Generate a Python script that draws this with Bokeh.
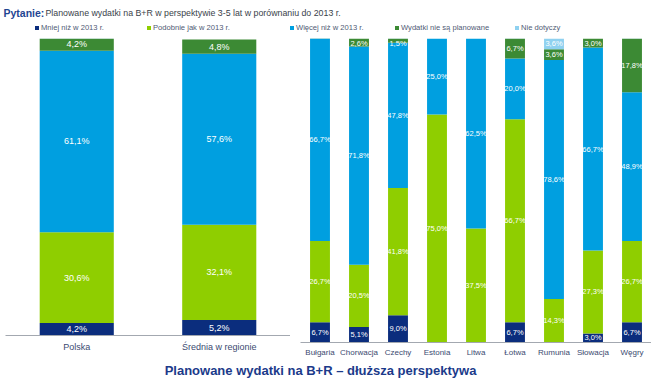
from bokeh.plotting import figure
from bokeh.models import Range1d, FactorRange, Legend, LegendItem, ColumnDataSource
from bokeh.layouts import column, row
from bokeh.embed import file_html
from bokeh.resources import INLINE
from bokeh.core.properties import value

FONT = "Liberation Sans"

series = ["Mniej niż w 2013 r.", "Podobnie jak w 2013 r.", "Więcej niż w 2013 r.",
          "Wydatki nie są planowane", "Nie dotyczy"]
colors = ["#0b2d7d", "#8fce00", "#009fe0", "#3c8a34", "#8fd1f0"]

left_cats = ["Polska", "Średnia w regionie"]
left_mniej = [4.2, 5.2]
left_podobnie = [30.6, 32.1]
left_wiecej = [61.1, 57.6]
left_brak = [4.2, 4.8]
left_nd = [0.0, 0.0]

right_cats = ["Bułgaria", "Chorwacja", "Czechy", "Estonia", "Litwa", "Łotwa",
              "Rumunia", "Słowacja", "Węgry"]
right_mniej = [6.7, 5.1, 9.0, 0.0, 0.0, 6.7, 0.0, 3.0, 6.7]
right_podobnie = [26.7, 20.5, 41.8, 75.0, 37.5, 66.7, 14.3, 27.3, 26.7]
right_wiecej = [66.7, 71.8, 47.8, 25.0, 62.5, 20.0, 78.6, 66.7, 48.9]
right_brak = [0.0, 2.6, 1.5, 0.0, 0.0, 6.7, 3.6, 3.0, 17.8]
right_nd = [0.0, 0.0, 0.0, 0.0, 0.0, 0.0, 3.6, 0.0, 0.0]

title_bold = "Pytanie:"
title_rest = "Planowane wydatki na B+R w perspektywie 3-5 lat w porównaniu do 2013 r."
footer_text = "Planowane wydatki na B+R – dłuższa perspektywa"

keys = ["s0", "s1", "s2", "s3", "s4"]


def panel(cats, cols, fw, fh, bw, mb_left, mb_bottom, lab_size, axis_size, standoff, ymax_lab):
    data = {"cat": cats}
    for k, c in zip(keys, cols):
        data[k] = c
    src = ColumnDataSource(data)
    p = figure(x_range=FactorRange(*cats, range_padding=0), y_range=Range1d(0, 100),
               frame_width=fw, frame_height=fh, output_backend="svg", toolbar_location=None,
               y_axis_location=None, min_border_left=mb_left, min_border_right=0,
               min_border_top=0, min_border_bottom=mb_bottom)
    p.vbar_stack(keys, x="cat", width=bw, color=colors, source=src, line_color=None)
    lx, ly, lt = [], [], []
    for i, cat in enumerate(cats):
        base = 0.0
        for c in cols:
            v = c[i]
            if v > 0:
                lx.append(cat)
                ly.append(min(base + v / 2, ymax_lab))
                lt.append(("%.1f%%" % v).replace(".", ","))
            base += v
    p.text(x=lx, y=ly, text=lt, text_color="white", text_align="center",
           text_baseline="middle", text_font=value(FONT), text_font_size=lab_size)
    p.xgrid.visible = False
    p.ygrid.visible = False
    p.outline_line_color = None
    p.background_fill_color = None
    p.border_fill_color = None
    ax = p.xaxis[0]
    ax.axis_line_color = "#a3a8b0"
    ax.axis_line_width = 1
    ax.major_tick_line_color = None
    ax.minor_tick_line_color = None
    ax.major_tick_out = 0
    ax.major_tick_in = 0
    ax.minor_tick_out = 0
    ax.major_label_text_font = FONT
    ax.major_label_text_font_size = axis_size
    ax.major_label_text_color = "#3b4a70"
    ax.major_label_standoff = standoff
    return p


p1 = panel(left_cats, [left_mniej, left_podobnie, left_wiecej, left_brak, left_nd],
           285, 297, 0.52, 5, 23, "9px", "9px", 6, 98.0)
p2 = panel(right_cats, [right_mniej, right_podobnie, right_wiecej, right_brak, right_nd],
           351, 304, 0.51, 10, 16, "7.5px", "8px", 5, 98.4)

# header with title and legend
W = 651
header = figure(width=W, height=38, x_range=Range1d(0, W), y_range=Range1d(0, 38),
                output_backend="svg", toolbar_location=None, x_axis_location=None,
                y_axis_location=None, min_border=0)
header.xgrid.visible = False
header.ygrid.visible = False
header.outline_line_color = None
header.text(x=[3], y=[26], text=[title_bold], text_font=value(FONT), text_font_size="10.5px",
            text_font_style="bold", text_color="#1f4592", text_baseline="middle")
header.text(x=[45], y=[26], text=[title_rest], text_font=value(FONT), text_font_size="8.8px",
            text_color="#3a3f4a", text_baseline="middle")

legend_x = [34, 146, 289, 394, 514]
for name, col, lx in zip(series, colors, legend_x):
    r = header.vbar(x=[-100], top=[0], width=1, color=col, line_color=None)
    leg = Legend(items=[LegendItem(label=name, renderers=[r])], location=(lx, 6),
                 orientation="horizontal", glyph_width=5, glyph_height=5,
                 label_text_font=FONT, label_text_font_size="7.6px",
                 label_text_color="#4f5a74", label_standoff=2, label_height=9,
                 padding=0, margin=0, spacing=0, border_line_color=None,
                 background_fill_alpha=0)
    header.add_layout(leg)

footer = figure(width=W, height=21, x_range=Range1d(0, W), y_range=Range1d(0, 21),
                output_backend="svg", toolbar_location=None, x_axis_location=None,
                y_axis_location=None, min_border=0)
footer.xgrid.visible = False
footer.ygrid.visible = False
footer.outline_line_color = None
footer.text(x=[320], y=[10], text=[footer_text], text_font=value(FONT), text_font_size="13px",
            text_font_style="bold", text_color="#1b3a8a", text_align="center",
            text_baseline="middle")

layout = column(header, row(p1, p2), footer)
open("out.html", "w").write(file_html(layout, INLINE))
